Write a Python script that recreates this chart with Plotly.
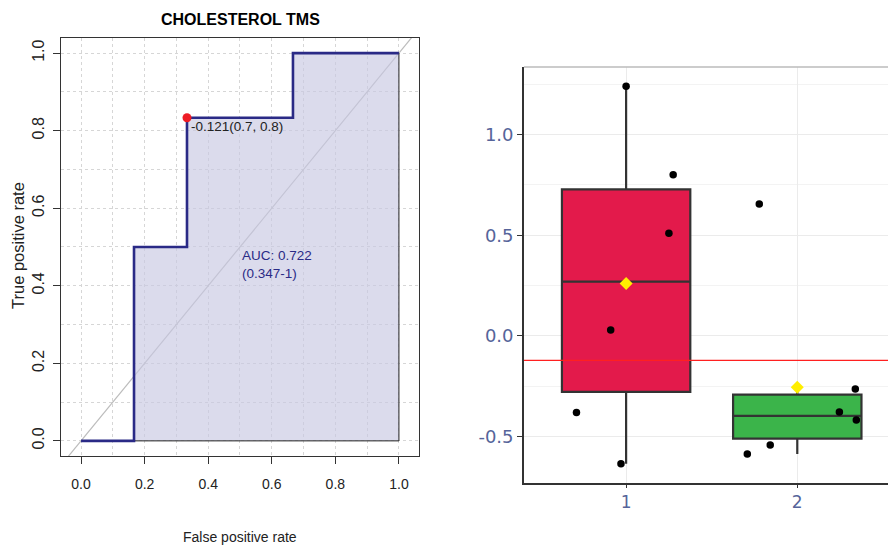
import numpy as np
import plotly.graph_objects as go

# ---------------- data ----------------
# ROC curve (false positive rate, true positive rate)
roc_fpr = [0.0, 1/6, 1/6, 1/3, 1/3, 2/3, 2/3, 1.0]
roc_tpr = [0.0, 0.0, 0.5, 0.5, 5/6, 5/6, 1.0, 1.0]
best_fpr = [1/3]
best_tpr = [5/6]
best_label = "-0.121(0.7, 0.8)"
auc_text = "AUC: 0.722<br>(0.347-1)"
roc_title = "CHOLESTEROL TMS"
roc_ticks = [0.0, 0.2, 0.4, 0.6, 0.8, 1.0]
roc_ticklabels = ["0.0", "0.2", "0.4", "0.6", "0.8", "1.0"]

# Box plot groups
group1_vals = [1.24, 0.80, 0.51, 0.03, -0.38, -0.635]
group1_jitter_x = [1.0, 1.275, 1.25, 0.91, 0.71, 0.97]
group2_vals = [0.655, -0.263, -0.377, -0.417, -0.541, -0.586]
group2_jitter_x = [1.778, 2.339, 2.246, 2.345, 1.842, 1.708]
cutoff = -0.121
box_ticks = [-0.5, 0.0, 0.5, 1.0]
box_ticklabels = ["-0.5", "0.0", "0.5", "1.0"]
cat_ticks = [1, 2]
cat_labels = ["1", "2"]

FONT = "Liberation Sans, Arial, sans-serif"
NAVY = "#2a2a86"

fig = go.Figure()

# ---------------- ROC panel ----------------
fig.add_trace(go.Scatter(x=[-0.2, 1.2], y=[-0.2, 1.2], mode="lines",
                         line=dict(color="#bcbcbc", width=1.2), xaxis="x", yaxis="y",
                         hoverinfo="skip", showlegend=False))
poly_x = roc_fpr[1:] + [roc_fpr[-1], roc_fpr[1]]
poly_y = roc_tpr[1:] + [0.0, 0.0]
fig.add_trace(go.Scatter(x=poly_x, y=poly_y, mode="lines", fill="toself",
                         fillcolor="rgba(200,200,226,0.65)",
                         line=dict(color="#222222", width=1), xaxis="x", yaxis="y",
                         hoverinfo="skip", showlegend=False))
fig.add_trace(go.Scatter(x=roc_fpr, y=roc_tpr, mode="lines",
                         line=dict(color=NAVY, width=2.6), xaxis="x", yaxis="y",
                         showlegend=False))
fig.add_trace(go.Scatter(x=best_fpr, y=best_tpr, mode="markers",
                         marker=dict(color="#ee1c25", size=9), xaxis="x", yaxis="y",
                         showlegend=False))

# ---------------- Box panel ----------------
def stats(v):
    a = np.array(v)
    q1, med, q3 = np.percentile(a, [25, 50, 75])
    iqr = q3 - q1
    lo = a[a >= q1 - 1.5 * iqr].min()
    hi = a[a <= q3 + 1.5 * iqr].max()
    return q1, med, q3, lo, hi, a.mean()

box_colors = ["#e31a4b", "#3bb44a"]
means_x, means_y = [], []
for cat, vals, col in [(1, group1_vals, box_colors[0]), (2, group2_vals, box_colors[1])]:
    q1, med, q3, lo, hi, mn = stats(vals)
    fig.add_trace(go.Box(x=[cat], q1=[q1], median=[med], q3=[q3],
                         lowerfence=[lo], upperfence=[hi],
                         fillcolor=col, line=dict(color="#333333", width=2.2),
                         width=0.75, whiskerwidth=0, boxpoints=False,
                         xaxis="x2", yaxis="y2", showlegend=False))
    means_x.append(cat)
    means_y.append(mn)

fig.add_trace(go.Scatter(x=[0.0, 3.0], y=[cutoff, cutoff], mode="lines",
                         line=dict(color="#ff2020", width=1.2), xaxis="x2", yaxis="y2",
                         showlegend=False))
fig.add_trace(go.Scatter(x=group1_jitter_x + group2_jitter_x, y=group1_vals + group2_vals,
                         mode="markers", marker=dict(color="black", size=7.5),
                         xaxis="x2", yaxis="y2", showlegend=False))
fig.add_trace(go.Scatter(x=means_x, y=means_y, mode="markers",
                         marker=dict(color="#ffee00", size=10, symbol="diamond"),
                         xaxis="x2", yaxis="y2", showlegend=False))

tick_col = "#56649a"

fig.update_layout(
    width=888, height=548, margin=dict(l=0, r=0, t=0, b=0),
    paper_bgcolor="white", plot_bgcolor="white",
    xaxis=dict(domain=[0.0687, 0.4718], range=[-0.063, 1.063], tickvals=roc_ticks,
               ticktext=roc_ticklabels, ticks="outside", ticklen=7, tickcolor="#333",
               showline=True, mirror=True, linecolor="#333", linewidth=1.3,
               showgrid=True, gridcolor="#d6d6d6", griddash="dot", gridwidth=1,
               minor=dict(dtick=0.1, showgrid=True, gridcolor="#d6d6d6", griddash="dot"),
               zeroline=False, tickfont=dict(family=FONT, size=14, color="#222"),
               ticklabelstandoff=8, anchor="y"),
    yaxis=dict(domain=[0.1679, 0.9307], range=[-0.039, 1.039], tickvals=roc_ticks,
               ticktext=roc_ticklabels, ticks="outside", ticklen=7, tickcolor="#333",
               showline=True, mirror=True, linecolor="#333", linewidth=1.3,
               showgrid=True, gridcolor="#d6d6d6", griddash="dot", gridwidth=1,
               minor=dict(dtick=0.1, showgrid=True, gridcolor="#d6d6d6", griddash="dot"),
               zeroline=False, tickangle=-90, ticklabelstandoff=2,
               tickfont=dict(family=FONT, size=16, color="#222"), anchor="x"),
    xaxis2=dict(domain=[0.590, 1.0], range=[0.403, 2.53], tickvals=cat_ticks,
                ticktext=cat_labels, ticks="outside", ticklen=3, tickcolor="#333",
                showline=True, linecolor="#333", linewidth=1.6,
                showgrid=True, gridcolor="#ebebeb", gridwidth=1.2, zeroline=False,
                tickfont=dict(family="DejaVu Sans", size=17, color=tick_col), anchor="y2"),
    yaxis2=dict(domain=[0.1186, 0.8777], range=[-0.73, 1.335], tickvals=box_ticks,
                ticktext=box_ticklabels, ticks="outside", ticklen=5, tickcolor="#333",
                showline=True, linecolor="#333", linewidth=1.6,
                showgrid=True, gridcolor="#ebebeb", gridwidth=1.2, zeroline=False,
                minor=dict(tickvals=[-0.25, 0.25, 0.75, 1.25], showgrid=True,
                           gridcolor="#f3f3f3", gridwidth=0.8),
                tickfont=dict(family="DejaVu Sans", size=18, color=tick_col), anchor="x2"),
    annotations=[
        dict(text="<b>" + roc_title + "</b>", x=240 / 888, y=1 - 20 / 548, xref="paper",
             yref="paper", xanchor="center", yanchor="middle", showarrow=False,
             font=dict(family=FONT, size=16, color="black")),
        dict(text=best_label, x=best_fpr[0], y=best_tpr[0], xref="x", yref="y",
             xanchor="left", yanchor="top", xshift=2, yshift=1, showarrow=False,
             font=dict(family=FONT, size=13.5, color="#222")),
        dict(text=auc_text, x=0.5, y=0.455, xref="x", yref="y", xanchor="left",
             yanchor="middle", align="left", showarrow=False,
             font=dict(family=FONT, size=13.5, color=NAVY)),
        dict(text="False positive rate", x=240 / 888, y=1 - 537 / 548, xref="paper",
             yref="paper", xanchor="center", yanchor="middle", showarrow=False,
             font=dict(family=FONT, size=14, color="#222")),
        dict(text="True positive rate", x=18 / 888, y=1 - 246 / 548, xref="paper",
             yref="paper", xanchor="center", yanchor="middle", showarrow=False,
             textangle=-90, font=dict(family=FONT, size=16.5, color="#222")),
    ],
    shapes=[dict(type="line", xref="paper", yref="paper", x0=0.590, x1=1.0,
                 y0=0.8777, y1=0.8777, line=dict(color="#bbbbbb", width=1.5))],
)

fig.write_html("out.html")
